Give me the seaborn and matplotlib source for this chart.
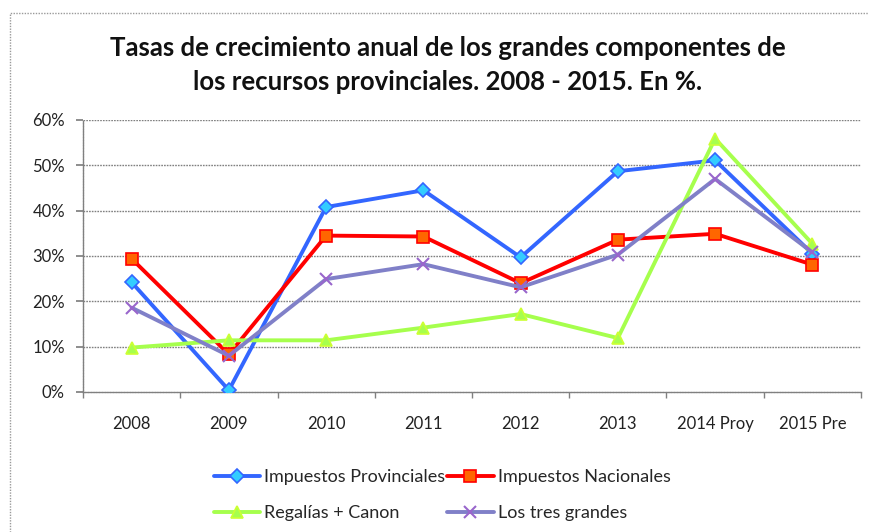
import matplotlib
matplotlib.use("Agg")
import matplotlib.pyplot as plt
import seaborn as sns
import pandas as pd
from matplotlib.patches import Rectangle
from matplotlib.ticker import FuncFormatter, FixedLocator

categories = ["2008", "2009", "2010", "2011", "2012", "2013", "2014 Proy", "2015 Pre"]
imp_prov = [24.2, 0.4, 40.8, 44.5, 29.7, 48.7, 51.1, 30.5]
imp_nac = [29.4, 8.3, 34.5, 34.3, 24.0, 33.6, 34.9, 28.1]
regalias = [9.8, 11.4, 11.4, 14.2, 17.2, 11.9, 55.9, 32.7]
tres = [18.6, 8.0, 24.9, 28.2, 23.1, 30.3, 47.0, 30.8]
series_names = ["Impuestos Provinciales", "Impuestos Nacionales", "Regalías + Canon", "Los tres grandes"]
title = "Tasas de crecimiento anual de los grandes componentes de\nlos recursos provinciales. 2008 - 2015. En %."

sns.set_theme(style="white")
plt.rcParams["font.family"] = ["Lato", "DejaVu Sans"]

styles = {
    "Impuestos Provinciales": dict(color="#3366FF", marker="D", mfc="#33CCFF", mec="#3366FF", ms=7),
    "Impuestos Nacionales": dict(color="#FF0000", marker="s", mfc="#FF6600", mec="#FF0000", ms=8.5),
    "Regalías + Canon": dict(color="#A6FF4D", marker="^", mfc="#A6FF4D", mec="#CCFF33", ms=8),
    "Los tres grandes": dict(color="#8080C8", marker="x", mfc="#9966CC", mec="#9966CC", ms=8),
}
values = [imp_prov, imp_nac, regalias, tres]

fig = plt.figure(figsize=(8.7, 5.32), dpi=100)
W, H = 870, 532
ax = fig.add_axes([83 / W, 1 - 392 / H, (861 - 83) / W, (392 - 120) / H])

for name, vals in zip(series_names, values):
    df = pd.DataFrame({"cat": categories, "val": vals, "pos": range(len(categories))})
    st = styles[name]
    sns.lineplot(data=df, x="pos", y="val", ax=ax, color=st["color"], lw=2.8,
                 marker=st["marker"], markersize=st["ms"], markerfacecolor=st["mfc"],
                 markeredgecolor=st["mec"], markeredgewidth=1.2 if st["marker"] != "x" else 1.5,
                 label=name, sort=False, zorder=3)

handles_list, labels_list = ax.get_legend_handles_labels()
if ax.get_legend():
    ax.get_legend().remove()

ax.set_xlim(-0.5, len(categories) - 0.5)
ax.set_ylim(0, 60)
ax.set_xticks(range(len(categories)))
ax.set_xticklabels(categories)
ax.xaxis.set_minor_locator(FixedLocator([i - 0.5 for i in range(len(categories) + 1)]))
ax.set_yticks(range(0, 61, 10))
ax.yaxis.set_major_formatter(FuncFormatter(lambda v, p: f"{int(v)}%"))
ax.set_xlabel("")
ax.set_ylabel("")

for y in range(10, 61, 10):
    ax.axhline(y, color="#808080", lw=1.0, ls=(0, (1.2, 0.8)), zorder=1)

for s in ["top", "right"]:
    ax.spines[s].set_visible(False)
for s in ["left", "bottom"]:
    ax.spines[s].set_visible(True)
    ax.spines[s].set_color("#808080")
    ax.spines[s].set_linewidth(1.0)
    ax.spines[s].set_linestyle((0, (1.2, 0.8)))

ax.tick_params(axis="x", which="major", length=0, pad=17, labelsize=12, colors="#222222")
ax.tick_params(axis="x", which="minor", length=4, color="#808080", direction="out", bottom=True)
ax.tick_params(axis="y", which="major", length=5, color="#808080", direction="out", left=True,
               pad=8, labelsize=12, labelcolor="#222222")

fig.text(0.515, 1 - 65 / H, title, ha="center", va="center", fontsize=18.5,
         fontweight="bold", color="#111111", linespacing=1.5)

order = [0, 2, 1, 3]
leg = fig.legend([handles_list[i] for i in order], [labels_list[i] for i in order],
                 loc="center", bbox_to_anchor=(442 / W, 1 - 495 / H), ncol=2,
                 frameon=False, fontsize=13, handlelength=2.6, handletextpad=0.2,
                 columnspacing=0.1, labelspacing=1.1)

fig.patches.append(Rectangle((10 / W, -0.02), 1.05, 1 - 13 / H + 0.02, transform=fig.transFigure,
                             fill=False, edgecolor="#9a9a9a", lw=1.0, ls=(0, (1, 1))))

fig.savefig("out.png", dpi=100)
